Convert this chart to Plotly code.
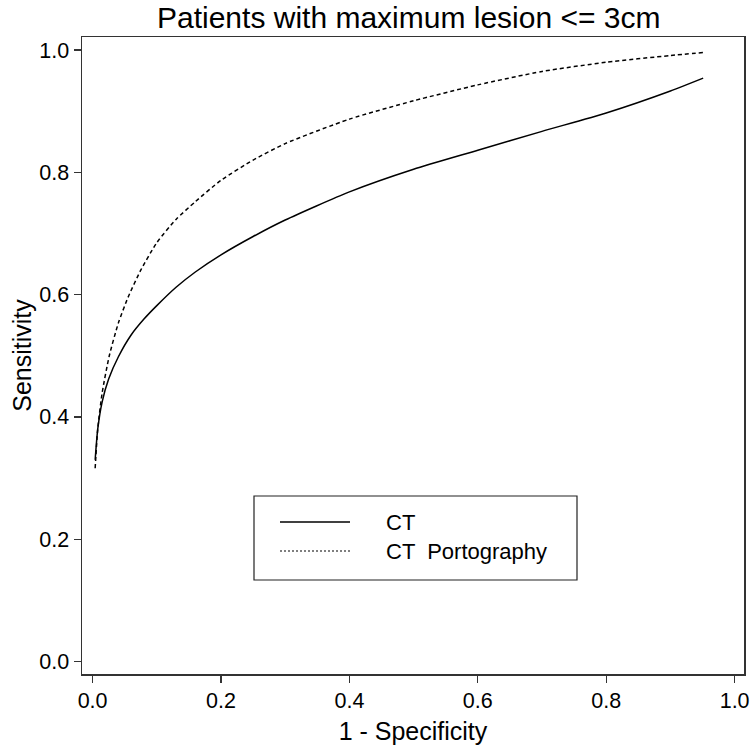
import plotly.graph_objects as go

# CT ROC curve (1 - specificity, sensitivity)
ct_x = [0.004, 0.008, 0.015, 0.025, 0.04, 0.06, 0.08, 0.1, 0.13, 0.16, 0.2, 0.25, 0.3, 0.4, 0.5, 0.6, 0.7, 0.8, 0.9, 0.951]
ct_y = [0.33, 0.38, 0.425, 0.462, 0.498, 0.534, 0.560, 0.582, 0.612, 0.637, 0.665, 0.695, 0.722, 0.768, 0.805, 0.836, 0.867, 0.897, 0.933, 0.954]

# CT Portography ROC curve
ctp_x = [0.004, 0.008, 0.015, 0.026, 0.04, 0.055, 0.075, 0.1, 0.13, 0.16, 0.2, 0.25, 0.3, 0.4, 0.5, 0.6, 0.7, 0.8, 0.9, 0.951]
ctp_y = [0.316, 0.38, 0.44, 0.50, 0.553, 0.595, 0.64, 0.685, 0.723, 0.752, 0.787, 0.82, 0.847, 0.887, 0.917, 0.943, 0.965, 0.98, 0.991, 0.996]

tick_vals = [0.0, 0.2, 0.4, 0.6, 0.8, 1.0]
tick_text = ["0.0", "0.2", "0.4", "0.6", "0.8", "1.0"]

series_names = ["CT", "CT  Portography"]

FONT = "Liberation Sans, Arial, sans-serif"
L, R, T, B = 82, 6, 37, 76
W, H = 750, 750
PW, PH = W - L - R, H - T - B


def px_x(px):
    return (px - L) / PW


def px_y(py):
    return (H - B - py) / PH


fig = go.Figure()
fig.add_trace(go.Scatter(x=ct_x, y=ct_y, mode="lines", name=series_names[0],
                         line=dict(color="black", width=1.5, shape="spline", smoothing=0.6)))
fig.add_trace(go.Scatter(x=ctp_x, y=ctp_y, mode="lines", name=series_names[1],
                         line=dict(color="black", width=1.5, dash="4px,3px", shape="spline", smoothing=0.6)))

axis_common = dict(
    showline=True, linecolor="#333", linewidth=1.5, mirror=True,
    ticks="outside", ticklen=7, tickwidth=1.2, tickcolor="#333",
    showgrid=False, zeroline=False, automargin=False,
    tickvals=tick_vals, ticktext=tick_text,
    tickfont=dict(family=FONT, size=21.5, color="black"),
)

# legend box and entries (drawn in paper space)
shapes = [
    dict(type="rect", xref="paper", yref="paper",
         x0=px_x(254), x1=px_x(577), y0=px_y(580), y1=px_y(496),
         line=dict(color="#222", width=1.2), fillcolor="white", layer="above"),
    dict(type="line", xref="paper", yref="paper",
         x0=px_x(280), x1=px_x(350), y0=px_y(522), y1=px_y(522),
         line=dict(color="black", width=1.5), layer="above"),
    dict(type="line", xref="paper", yref="paper",
         x0=px_x(280), x1=px_x(350), y0=px_y(551), y1=px_y(551),
         line=dict(color="black", width=1.2, dash="2px,2px"), layer="above"),
]
annotations = [
    dict(text=series_names[0], xref="paper", yref="paper", x=px_x(384), y=px_y(522),
         xanchor="left", yanchor="middle", showarrow=False,
         font=dict(family=FONT, size=22, color="black")),
    dict(text=series_names[1], xref="paper", yref="paper", x=px_x(384), y=px_y(551),
         xanchor="left", yanchor="middle", showarrow=False,
         font=dict(family=FONT, size=22, color="black")),
]

fig.update_layout(
    width=W, height=H,
    paper_bgcolor="white", plot_bgcolor="white",
    margin=dict(l=L, r=R, t=T, b=B, autoexpand=False),
    title=dict(text="Patients with maximum lesion <= 3cm", x=0.545, xanchor="center",
               y=0.977, yanchor="middle",
               font=dict(family=FONT, size=30, color="black")),
    xaxis=dict(range=[-0.0165, 1.0146],
               title=dict(text="1 - Specificity", font=dict(family=FONT, size=25, color="black"), standoff=10),
               **axis_common),
    yaxis=dict(range=[-0.0204, 1.0213],
               title=dict(text="Sensitivity", font=dict(family=FONT, size=25, color="black"), standoff=0),
               **axis_common),
    shapes=shapes,
    annotations=annotations,
    showlegend=False,
)

fig.write_html(
    "out.html",
    config={"displayModeBar": False, "staticPlot": True},
    post_script="document.body.style.margin='0';document.body.style.padding='0';document.body.style.overflow='hidden';",
)
